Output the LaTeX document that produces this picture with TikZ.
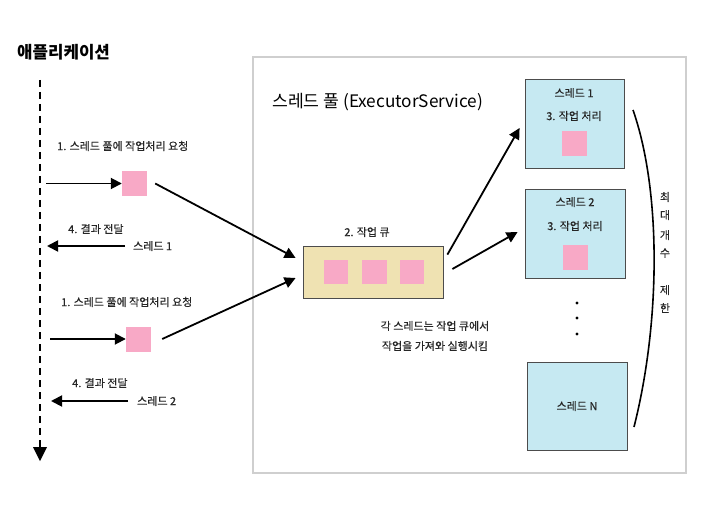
\documentclass[tikz,border=0pt]{standalone}
\usepackage{fontspec}
\setmainfont{Noto Sans CJK KR}
\newfontfamily\lblfont[FakeBold=0.4]{Noto Sans CJK KR}
\usepackage{xcolor}
\usepackage{tikz}
\usetikzlibrary{arrows}
\usetikzlibrary{arrows.meta}
\definecolor{jobpink}{HTML}{F8A9C6}
\definecolor{queuetan}{HTML}{EFE2B2}
\definecolor{threadblue}{HTML}{C6E9F2}
\definecolor{poolgray}{HTML}{CFCFCF}
\tikzset{
  lbl/.style={font=\lblfont\fontsize{11}{13}\selectfont, text=black!85, inner sep=0pt, anchor=west},
  job/.style={fill=jobpink, minimum size=25pt, inner sep=0pt},
  threadbox/.style={draw=black!70, fill=threadblue, line width=0.8pt, inner sep=0pt},
  arr/.style={draw=black, line width=1.8pt, -{Triangle[length=11pt,width=11pt]}},
}
\begin{document}
\begin{tikzpicture}[x=1pt, y=-1pt]
  \useasboundingbox[fill=white] (0,0) rectangle (715,505);
  % application side
  \node[anchor=west, inner sep=0pt, font=\fontsize{16.8}{19}\selectfont\bfseries] (app) at (17,52) {애플리케이션};
  \coordinate (lifeTop) at (40,80);
  \coordinate (lifeEnd) at (40,461);
  \draw[line width=2.2pt, dash pattern=on 7pt off 5pt] (lifeTop) -- (40,447);
  \draw[draw=none, fill=black] (33,447) -- (47,447) -- (lifeEnd) -- cycle;
  % request 1
  \node[lbl] (req1) at (57,146) {1. 스레드 풀에 작업처리 요청};
  \node[job] (job1) at (134.5,183.5) {};
  \coordinate (send1) at (46,183.5);
  \draw[arr] (send1) -- (job1.west);
  \node[lbl] (res1) at (68,229) {4. 결과 전달};
  \node[lbl] (from1) at (133,246) {스레드 1};
  \coordinate (back1) at (47,246);
  \draw[arr] ([xshift=-8pt]from1.west) -- (back1);
  % request 2
  \node[lbl] (req2) at (61,302) {1. 스레드 풀에 작업처리 요청};
  \node[job] (job2) at (138.5,339) {};
  \coordinate (send2) at (50,339);
  \draw[arr] (send2) -- (job2.west);
  \node[lbl] (res2) at (72,383) {4. 결과 전달};
  \node[lbl] (from2) at (137,401) {스레드 2};
  \coordinate (back2) at (51,401);
  \draw[arr] ([xshift=-9pt]from2.west) -- (back2);
  % thread pool
  \draw[draw=poolgray, line width=1.6pt] (253,57) rectangle (686,473);
  \node[anchor=west, inner sep=0pt, font=\fontsize{17.2}{20}\selectfont] (pool) at (272,102) {스레드 풀 (ExecutorService)};
  \node[draw=black!70, fill=queuetan, line width=0.8pt, minimum width=140pt, minimum height=52pt, inner sep=0pt] (queue) at (373,272) {};
  \node[lbl, anchor=center] (queueLbl) at (367,232) {2. 작업 큐};
  \foreach \x/\n in {336/q1, 374.5/q2, 412/q3}
    \node[job, minimum size=24.5pt] (\n) at (\x,272) {};
  \node[lbl, anchor=center] (note1) at (435,326) {각 스레드는 작업 큐에서};
  \node[lbl, anchor=center] (note2) at (435,346) {작업을 가져와 실행시킴};
  % threads
  \node[threadbox, minimum width=99pt, minimum height=89pt] (t1) at (574.5,123.5) {};
  \node[lbl, anchor=center] (t1Lbl) at (574,93) {스레드 1};
  \node[lbl, anchor=center] (t1Job) at (574,116) {3. 작업 처리};
  \node[job] (t1Task) at (574.5,144) {};
  \node[threadbox, minimum width=100pt, minimum height=89pt] (t2) at (575,233.5) {};
  \node[lbl, anchor=center] (t2Lbl) at (575,202) {스레드 2};
  \node[lbl, anchor=center] (t2Job) at (575,226) {3. 작업 처리};
  \node[job] (t2Task) at (575,257.5) {};
  \foreach \y in {303,318,334}
    \fill (577,\y) circle[radius=1.6pt];
  \node[threadbox, minimum width=100pt, minimum height=88pt] (tN) at (577,406) {};
  \node[lbl, anchor=center] (tNLbl) at (tN) {스레드 N};
  % connectors
  \draw[arr] ([xshift=8pt]job1.east) -- ([xshift=-7pt,yshift=14pt]queue.west);
  \draw[arr] ([xshift=11pt]job2.east) -- ([xshift=-7pt,yshift=-6pt]queue.west);
  \draw[arr] ([xshift=4pt,yshift=-9pt]queue.north east) -- ([xshift=-5pt,yshift=-4.5pt]t1.west);
  \draw[arr] ([xshift=9pt,yshift=3pt]queue.east) -- ([xshift=-7pt,yshift=1.5pt]t2.west);
  % limit
  \draw[line width=1.6pt] (633,110) .. controls (661,190) and (661,320) .. (634,427);
  \foreach \y/\c/\n in {197/최/m1, 215/대/m2, 235/개/m3, 253/수/m4, 290/제/m5, 308/한/m6}
    \node[lbl, anchor=center] (\n) at (665,\y) {\c};
\end{tikzpicture}
\end{document}
